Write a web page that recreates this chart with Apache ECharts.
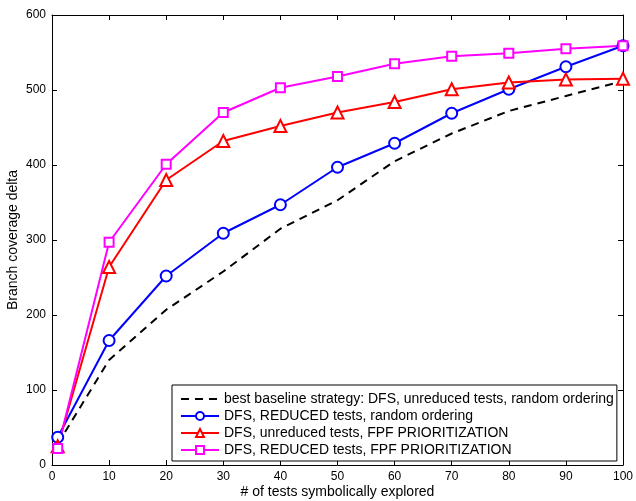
<!DOCTYPE html>
<html>
<head>
<meta charset="utf-8">
<script src="https://cdn.jsdelivr.net/npm/echarts@6/dist/echarts.min.js"></script>
<style>
  html, body { margin: 0; padding: 0; background: #fff; }
  #chart { width: 636px; height: 501px; }
</style>
</head>
<body>
<div id="chart"></div>
<script>
const xs = [1, 10, 20, 30, 40, 50, 60, 70, 80, 90, 100]
const baseline = [28, 140, 207, 258, 315, 353, 405, 442, 472, 492, 512]
const reducedRandom = [37, 166, 252, 309, 347, 397, 429, 469, 501, 531, 559]
const unreducedFpf = [25, 264, 380, 432, 452, 470, 484, 501, 510, 514, 515]
const reducedFpf = [22, 297, 401, 470, 503, 518, 535, 545, 549, 555, 559]
const names = [
  'best baseline strategy: DFS, unreduced tests, random ordering',
  'DFS, REDUCED tests, random ordering',
  'DFS, unreduced tests, FPF PRIORITIZATION',
  'DFS, REDUCED tests, FPF PRIORITIZATION'
]

const font = 'Liberation Sans, Arial, Helvetica, sans-serif'
const pairs = (ys) => xs.map((x, i) => [x, ys[i]])

const chart = echarts.init(document.getElementById('chart'))

const frameAxis = {
  axisLine: { show: true, onZero: false, lineStyle: { color: '#000', width: 1 } },
  axisTick: { show: true, inside: true, length: 5, lineStyle: { color: '#000' } },
  splitLine: { show: false },
}

function lineSeries(name, ys, color, symbol, size, dashed) {
  return {
    name,
    type: 'line',
    data: pairs(ys),
    symbol,
    symbolSize: size,
    lineStyle: { color, width: 2, type: dashed ? [8, 6] : 'solid' },
    itemStyle: { color, borderColor: color, borderWidth: 2 },
    emphasis: { disabled: true },
    animation: false,
  }
}

chart.setOption({
  backgroundColor: '#fff',
  textStyle: { fontFamily: font },
  grid: { left: 52, right: 13, top: 15, bottom: 36, outerBoundsMode: 'none', containLabel: false },
  legend: {
    data: [
      { name: names[0], itemStyle: { opacity: 0 } },
      names[1], names[2], names[3]
    ],
    orient: 'vertical',
    left: 172,
    top: 385,
    padding: [6, 3, 3, 8],
    itemGap: 1,
    itemWidth: 38,
    itemHeight: 10,
    backgroundColor: '#fff',
    borderColor: '#000',
    borderWidth: 1,
    textStyle: { fontFamily: font, fontSize: 14, color: '#000', lineHeight: 16 },
  },
  xAxis: [
    {
      type: 'value', min: 0, max: 100, interval: 10, position: 'bottom',
      ...frameAxis,
      axisLabel: { color: '#000', fontSize: 12, fontFamily: font, margin: 6 },
      name: '# of tests symbolically explored',
      nameLocation: 'middle',
      nameGap: 20,
      nameMoveOverlap: false,
      nameTextStyle: { color: '#000', fontSize: 14, fontFamily: font },
    },
    {
      type: 'value', min: 0, max: 100, interval: 10, position: 'top',
      ...frameAxis,
      axisLabel: { show: false },
    },
  ],
  yAxis: [
    {
      type: 'value', min: 0, max: 600, interval: 100, position: 'left',
      ...frameAxis,
      axisLabel: { color: '#000', fontSize: 12, fontFamily: font, margin: 6 },
      name: 'Branch coverage delta',
      nameLocation: 'middle',
      nameGap: 32,
      nameMoveOverlap: false,
      nameTextStyle: { color: '#000', fontSize: 14, fontFamily: font },
    },
    {
      type: 'value', min: 0, max: 600, interval: 100, position: 'right',
      ...frameAxis,
      axisLabel: { show: false },
    },
  ],
  series: [
    lineSeries(names[0], baseline, '#000000', 'none', 0, true),
    lineSeries(names[1], reducedRandom, '#0000ff', 'emptyCircle', 11, false),
    lineSeries(names[2], unreducedFpf, '#ff0000', 'emptyTriangle', 12, false),
    lineSeries(names[3], reducedFpf, '#ff00ff', 'emptyRect', 9, false),
  ],
})
</script>
</body>
</html>
